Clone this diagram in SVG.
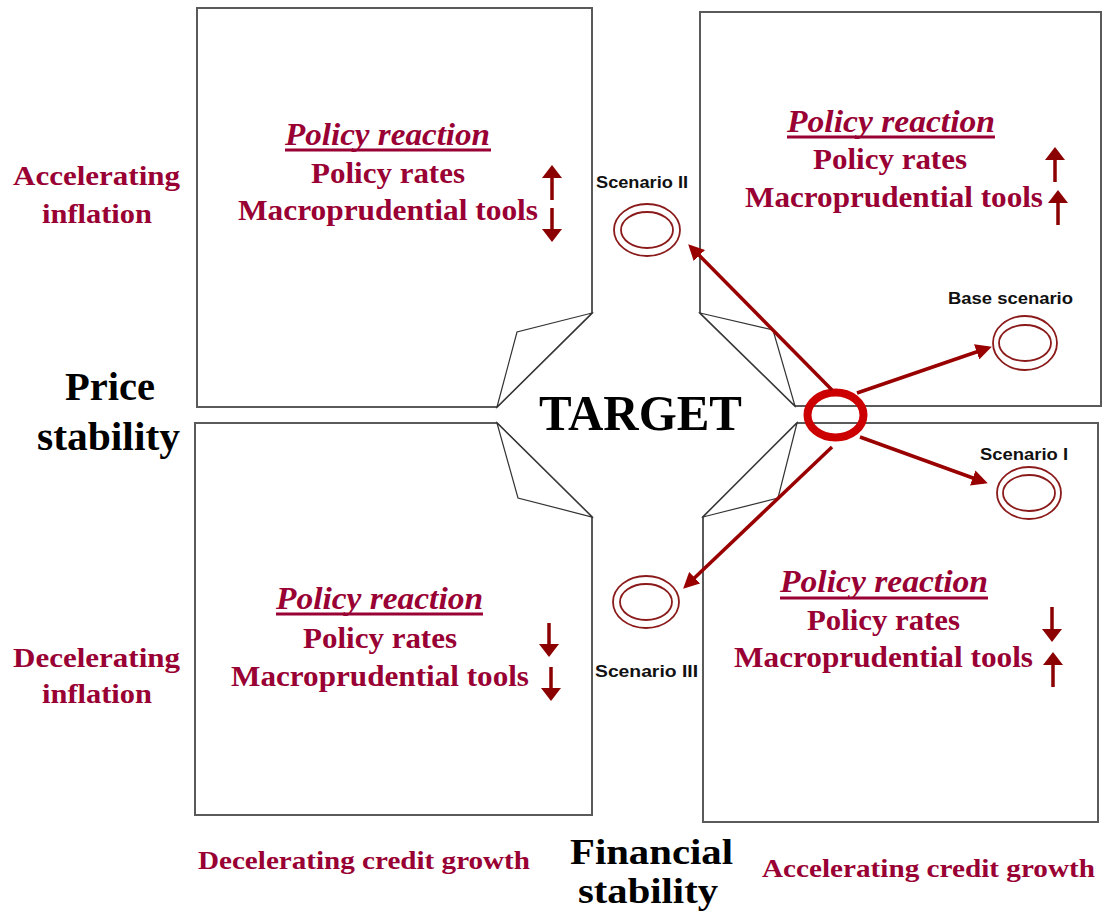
<svg xmlns="http://www.w3.org/2000/svg" width="1106" height="915" viewBox="0 0 1106 915">
<defs>
<style>
.box{fill:#fff;stroke:#5a5a5a;stroke-width:2}
.flap{fill:#fff;stroke:#333;stroke-width:1.2;stroke-linejoin:miter}
.pr{font-family:"Liberation Serif","Times New Roman",serif;font-weight:bold;font-style:italic;font-size:31px;fill:#990033}
.t{font-family:"Liberation Serif","Times New Roman",serif;font-weight:bold;font-size:30px;fill:#990033}
.ax{font-family:"Liberation Serif","Times New Roman",serif;font-weight:bold;font-size:28px;fill:#990033}
.bx{font-family:"Liberation Serif","Times New Roman",serif;font-weight:bold;font-size:26px;fill:#990033}
.big{font-family:"Liberation Serif","Times New Roman",serif;font-weight:bold;font-size:40px;fill:#000}
.sc{font-family:"Liberation Sans",Arial,sans-serif;font-weight:bold;font-size:16px;fill:#111}
.ul{stroke:#990033;stroke-width:3}
.ring{fill:none;stroke:#8b1a1a;stroke-width:1.8}
.conn{stroke:#990000;stroke-width:3.5;fill:none}
.sm{stroke:#8b0000;stroke-width:3.5;fill:none}
</style>
<marker id="ah" viewBox="0 0 16 16" markerWidth="16" markerHeight="16" refX="12" refY="8" orient="auto" markerUnits="userSpaceOnUse">
<path d="M0,0 L16,8 L0,16 Z" fill="#990000"/>
</marker>
<marker id="sa" viewBox="0 0 13 20" markerWidth="13" markerHeight="20" refX="10" refY="10" orient="auto" markerUnits="userSpaceOnUse">
<path d="M0,0 L13,10 L0,20 Z" fill="#8b0000"/>
</marker>
</defs>
<rect width="1106" height="915" fill="#fff"/>

<g id="box-top-left">
<path class="box" d="M197,8 H592 V313 L497,407 H197 Z"/>
<polygon class="flap" points="497,407 517,332 592,313"/>
<text class="pr" x="285" y="145" textLength="205" lengthAdjust="spacingAndGlyphs">Policy reaction</text>
<line class="ul" x1="285" y1="150" x2="491" y2="150"/>
<text class="t" x="311" y="183" textLength="154" lengthAdjust="spacingAndGlyphs">Policy rates</text>
<text class="t" x="238" y="220" textLength="300" lengthAdjust="spacingAndGlyphs">Macroprudential tools</text>
<line class="sm" x1="552" y1="200" x2="552" y2="168" marker-end="url(#sa)"/>
<line class="sm" x1="552" y1="208" x2="552" y2="239" marker-end="url(#sa)"/>
</g>

<g id="box-top-right">
<path class="box" d="M700,12 H1101 V406 H795 L700,313 Z"/>
<polygon class="flap" points="700,313 773,330 795,406"/>
<text class="pr" x="787" y="132" textLength="208" lengthAdjust="spacingAndGlyphs">Policy reaction</text>
<line class="ul" x1="787" y1="137" x2="995" y2="137"/>
<text class="t" x="813" y="169" textLength="154" lengthAdjust="spacingAndGlyphs">Policy rates</text>
<text class="t" x="745" y="207" textLength="298" lengthAdjust="spacingAndGlyphs">Macroprudential tools</text>
<line class="sm" x1="1055" y1="182" x2="1055" y2="150" marker-end="url(#sa)"/>
<line class="sm" x1="1058" y1="225" x2="1058" y2="193" marker-end="url(#sa)"/>
</g>

<g id="box-bottom-left">
<path class="box" d="M195,423 H497 L592,517 V815 H195 Z"/>
<polygon class="flap" points="497,423 518,498 592,517"/>
<text class="pr" x="276" y="609" textLength="207" lengthAdjust="spacingAndGlyphs">Policy reaction</text>
<line class="ul" x1="276" y1="614" x2="483" y2="614"/>
<text class="t" x="303" y="648" textLength="154" lengthAdjust="spacingAndGlyphs">Policy rates</text>
<text class="t" x="231" y="686" textLength="298" lengthAdjust="spacingAndGlyphs">Macroprudential tools</text>
<line class="sm" x1="549" y1="623" x2="549" y2="654" marker-end="url(#sa)"/>
<line class="sm" x1="551" y1="667" x2="551" y2="698" marker-end="url(#sa)"/>
</g>

<g id="box-bottom-right">
<path class="box" d="M797,423 H1098 V822 H703 V517 Z"/>
<polygon class="flap" points="797,423 778,498 703,517"/>
<text class="pr" x="780" y="592" textLength="208" lengthAdjust="spacingAndGlyphs">Policy reaction</text>
<line class="ul" x1="780" y1="598" x2="988" y2="598"/>
<text class="t" x="807" y="630" textLength="153" lengthAdjust="spacingAndGlyphs">Policy rates</text>
<text class="t" x="734" y="667" textLength="299" lengthAdjust="spacingAndGlyphs">Macroprudential tools</text>
<line class="sm" x1="1052" y1="607" x2="1052" y2="639" marker-end="url(#sa)"/>
<line class="sm" x1="1053" y1="687" x2="1053" y2="655" marker-end="url(#sa)"/>
</g>

<g id="axis-labels">
<text class="ax" x="13" y="185" textLength="167" lengthAdjust="spacingAndGlyphs">Accelerating</text>
<text class="ax" x="42" y="223" textLength="110" lengthAdjust="spacingAndGlyphs">inflation</text>
<text class="ax" x="13" y="667" textLength="167" lengthAdjust="spacingAndGlyphs">Decelerating</text>
<text class="ax" x="42" y="703" textLength="110" lengthAdjust="spacingAndGlyphs">inflation</text>
<text class="big" x="65" y="400" textLength="90" lengthAdjust="spacingAndGlyphs">Price</text>
<text class="big" x="37" y="450" textLength="143" lengthAdjust="spacingAndGlyphs">stability</text>
<text class="bx" x="198" y="869" textLength="332" lengthAdjust="spacingAndGlyphs">Decelerating credit growth</text>
<text class="bx" x="762" y="877" textLength="333" lengthAdjust="spacingAndGlyphs">Accelerating credit growth</text>
<text class="big" x="570" y="864" style="font-size:35px" textLength="163" lengthAdjust="spacingAndGlyphs">Financial</text>
<text class="big" x="578" y="903" style="font-size:35px" textLength="140" lengthAdjust="spacingAndGlyphs">stability</text>
</g>

<g id="target">
<text class="big" x="539" y="430" style="font-size:50px" textLength="203" lengthAdjust="spacingAndGlyphs">TARGET</text>
<ellipse cx="835.5" cy="415" rx="28" ry="22.5" fill="none" stroke="#cc0000" stroke-width="8"/>
</g>

<g id="scenario-2">
<text class="sc" x="596" y="188" textLength="92" lengthAdjust="spacingAndGlyphs">Scenario II</text>
<ellipse class="ring" cx="647" cy="230" rx="33" ry="26"/>
<ellipse class="ring" cx="647" cy="230" rx="26" ry="18"/>
</g>
<g id="scenario-base">
<text class="sc" x="948" y="304" textLength="125" lengthAdjust="spacingAndGlyphs">Base scenario</text>
<ellipse class="ring" cx="1025" cy="343" rx="32" ry="27"/>
<ellipse class="ring" cx="1025" cy="343" rx="26" ry="18"/>
</g>
<g id="scenario-1">
<text class="sc" x="980" y="460" textLength="88" lengthAdjust="spacingAndGlyphs">Scenario I</text>
<ellipse class="ring" cx="1029" cy="493" rx="32" ry="26"/>
<ellipse class="ring" cx="1029" cy="493" rx="26" ry="18"/>
</g>
<g id="scenario-3">
<text class="sc" x="595" y="677" textLength="103" lengthAdjust="spacingAndGlyphs">Scenario III</text>
<ellipse class="ring" cx="646" cy="602" rx="33" ry="26"/>
<ellipse class="ring" cx="646" cy="602" rx="26" ry="18"/>
</g>

<g id="connectors">
<line class="conn" x1="832" y1="390" x2="691" y2="247" marker-end="url(#ah)"/>
<line class="conn" x1="857" y1="393" x2="988" y2="348" marker-end="url(#ah)"/>
<line class="conn" x1="860" y1="437" x2="984" y2="482" marker-end="url(#ah)"/>
<line class="conn" x1="832" y1="447" x2="686" y2="586" marker-end="url(#ah)"/>
</g>
</svg>
